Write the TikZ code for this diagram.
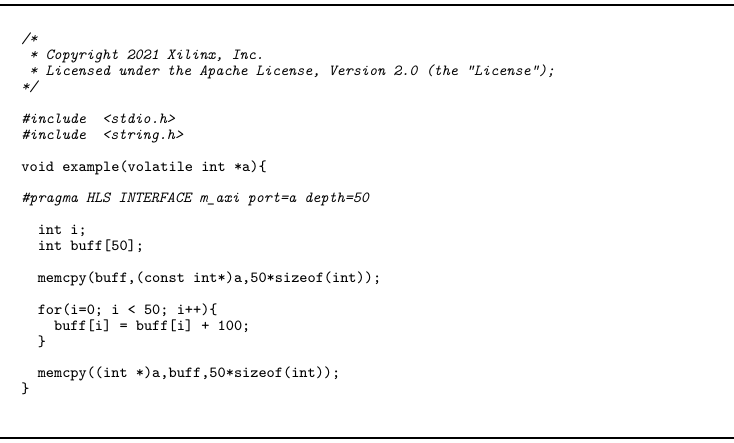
\documentclass[tikz,border=0pt]{standalone}
\usepackage{tikz}
\usetikzlibrary{positioning}

\tikzset{
  codeline/.style={anchor=base west, inner sep=0pt, font=\fontsize{7.7}{7.9}\selectfont\ttfamily},
  commentline/.style={codeline, font=\fontsize{7.7}{7.9}\selectfont\ttfamily\itshape},
  rule/.style={line width=1pt}
}
% baseline of code line k (counted from the top)
\newcommand{\lny}[1]{199.5pt-#1*7.95pt}

\begin{document}
\begin{tikzpicture}[x=1pt,y=1pt]
  \useasboundingbox (0,0) rectangle (367,221.5);
  % top and bottom rules
  \coordinate (topl) at (0,219);
  \coordinate (topr) at (367,219);
  \coordinate (botl) at (0,2.5);
  \coordinate (botr) at (367,2.5);
  \draw[rule] (topl) -- (topr);
  \draw[rule] (botl) -- (botr);
  % listing
  \node[commentline] (l0)  at (10.5,{\lny{0}})  {/*};
  \node[commentline] (l1)  at (10.5,{\lny{1}})  {\ *\ Copyright\ 2021\ Xilinx,\ Inc.};
  \node[commentline] (l2)  at (10.5,{\lny{2}})  {\ *\ Licensed\ under\ the\ Apache\ License,\ Version\ 2.0\ (the\ "License");};
  \node[commentline] (l3)  at (10.5,{\lny{3}})  {*/};
  \node[commentline] (l5)  at (10.5,{\lny{5}})  {\#include\ \ <stdio.h>};
  \node[commentline] (l6)  at (10.5,{\lny{6}})  {\#include\ \ <string.h>};
  \node[codeline]    (l8)  at (10.5,{\lny{8}})  {void\ example(volatile\ int\ *a)\{};
  \node[commentline] (l10) at (10.5,{\lny{10}}) {\#pragma\ HLS\ INTERFACE\ m\_axi\ port=a\ depth=50};
  \node[codeline]    (l12) at (10.5,{\lny{12}}) {\ \ int\ i;};
  \node[codeline]    (l13) at (10.5,{\lny{13}}) {\ \ int\ buff[50];};
  \node[codeline]    (l15) at (10.5,{\lny{15}}) {\ \ memcpy(buff,(const\ int*)a,50*sizeof(int));};
  \node[codeline]    (l17) at (10.5,{\lny{17}}) {\ \ for(i=0;\ i\ <\ 50;\ i++)\{};
  \node[codeline]    (l18) at (10.5,{\lny{18}}) {\ \ \ \ buff[i]\ =\ buff[i]\ +\ 100;};
  \node[codeline]    (l19) at (10.5,{\lny{19}}) {\ \ \}};
  \node[codeline]    (l21) at (10.5,{\lny{21}}) {\ \ memcpy((int\ *)a,buff,50*sizeof(int));};
  \node[codeline]    (l22) at (10.5,{\lny{22}}) {\}};
\end{tikzpicture}
\end{document}
